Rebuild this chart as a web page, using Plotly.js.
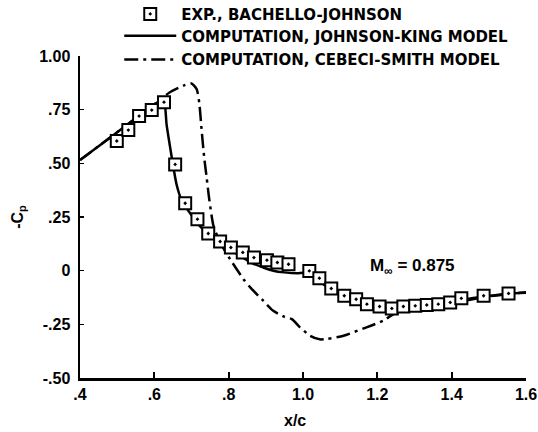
<!DOCTYPE html>
<html>
<head>
<meta charset="utf-8">
<script src="https://cdn.plot.ly/plotly-3.0.1.min.js"></script>
<style>html,body{margin:0;padding:0;background:#fff;}#chart{width:538px;height:432px;}</style>
</head>
<body>
<div id="chart"></div>
<script>
// Experimental data (Bachello-Johnson)
var expX = [0.499,0.530,0.559,0.593,0.626,0.656,0.683,0.716,0.745,0.777,0.806,0.838,0.868,0.903,0.931,0.961,1.017,1.044,1.076,1.111,1.143,1.172,1.206,1.239,1.270,1.302,1.333,1.364,1.396,1.426,1.486,1.553];
var expY = [0.604,0.655,0.720,0.748,0.785,0.495,0.314,0.240,0.173,0.136,0.108,0.085,0.061,0.049,0.038,0.030,-0.001,-0.035,-0.083,-0.117,-0.133,-0.156,-0.167,-0.176,-0.167,-0.164,-0.160,-0.156,-0.148,-0.129,-0.117,-0.106];

// Johnson-King model
var jkX = [0.40,0.45,0.50,0.55,0.60,0.620,0.627,0.633,0.642,0.650,0.660,0.674,0.692,0.714,0.741,0.777,0.813,0.867,0.893,0.920,0.950,0.985,1.005,1.037,1.073,1.109,1.140,1.170,1.210,1.240,1.270,1.330,1.400,1.450,1.500,1.550,1.600];
var jkY = [0.515,0.580,0.645,0.710,0.775,0.795,0.785,0.680,0.580,0.495,0.400,0.325,0.278,0.224,0.178,0.131,0.088,0.032,0.015,0.000,-0.008,-0.012,-0.010,-0.040,-0.086,-0.120,-0.140,-0.155,-0.168,-0.172,-0.168,-0.160,-0.148,-0.130,-0.118,-0.108,-0.103];

// Cebeci-Smith model
var csX = [0.40,0.45,0.50,0.55,0.60,0.640,0.680,0.700,0.714,0.721,0.727,0.734,0.741,0.748,0.759,0.777,0.804,0.840,0.858,0.893,0.920,0.950,0.970,0.992,1.019,1.045,1.064,1.109,1.163,1.216,1.250,1.300,1.400,1.500,1.600];
var csY = [0.515,0.580,0.645,0.710,0.775,0.829,0.863,0.872,0.845,0.780,0.660,0.530,0.430,0.330,0.210,0.131,0.053,-0.040,-0.078,-0.140,-0.187,-0.215,-0.226,-0.264,-0.303,-0.320,-0.318,-0.303,-0.269,-0.233,-0.195,-0.170,-0.150,-0.120,-0.100];

var xTickVals = [0.4,0.6,0.8,1.0,1.2,1.4,1.6];
var xTickText = ['.4','.6','.8','1.0','1.2','1.4','1.6'];
var yTickVals = [-0.5,-0.25,0,0.25,0.5,0.75,1.0];
var yTickText = ['-.50','-.25','0','.25','.50','.75','1.00'];

var names = ['EXP., BACHELLO-JOHNSON','COMPUTATION, JOHNSON-KING MODEL','COMPUTATION, CEBECI-SMITH MODEL'];

var FONT = 'Liberation Sans, Arial, sans-serif';
var LFONT = 'DejaVu Sans, sans-serif';

var traces = [
  {x: jkX, y: jkY, mode: 'lines', name: names[1], legend: 'legend2',
   line: {color: '#000', width: 2.5, shape: 'spline', smoothing: 0.6}},
  {x: csX, y: csY, mode: 'lines', name: names[2], legend: 'legend3',
   line: {color: '#000', width: 2.5, dash: '14px,5px,3px,5px', shape: 'spline', smoothing: 0.6}},
  {x: expX, y: expY, mode: 'markers', name: names[0], legend: 'legend',
   marker: {symbol: 'square-dot', size: 12, color: '#fff', line: {color: '#000', width: 2}}}
];

function leg(y) {
  return {x: 0.088, y: y, xanchor: 'left', yanchor: 'middle', bgcolor: 'rgba(0,0,0,0)',
          itemwidth: 52, font: {family: LFONT, size: 15, color: '#000', weight: 'bold'}};
}

var layout = {
  width: 538, height: 432,
  margin: {l: 80, r: 12, t: 56, b: 54, autoexpand: false},
  paper_bgcolor: '#fff', plot_bgcolor: '#fff',
  font: {family: FONT, color: '#000', weight: 'bold'},
  showlegend: true,
  legend: leg(1.130),
  legend2: leg(1.062),
  legend3: leg(0.988),
  xaxis: {
    range: [0.4, 1.6], tickvals: xTickVals, ticktext: xTickText,
    showgrid: false, zeroline: false, showline: true, linecolor: '#000', linewidth: 2.5,
    ticks: 'inside', ticklen: 6, tickwidth: 2, tickcolor: '#000',
    tickfont: {family: FONT, size: 16, color: '#000', weight: 'bold'}
  },
  yaxis: {
    range: [-0.5, 1.0], tickvals: yTickVals, ticktext: yTickText,
    showgrid: false, zeroline: false, showline: true, linecolor: '#000', linewidth: 2.5,
    ticks: 'inside', ticklen: 4, tickwidth: 1.5, tickcolor: '#000', ticklabelstandoff: 4,
    tickfont: {family: FONT, size: 16, color: '#000', weight: 'bold'},
    title: {text: '-C<sub>p</sub>', standoff: 12, font: {family: FONT, size: 16, color: '#000', weight: 'bold'}}
  },
  annotations: [
    {x: 0.979, y: -0.5, xref: 'x', yref: 'y', yshift: -32, text: 'x/c', showarrow: false,
     xanchor: 'center', yanchor: 'top', font: {family: FONT, size: 16, color: '#000', weight: 'bold'}},
    {x: 1.175, y: 0.016, xref: 'x', yref: 'y', text: 'M<sub>∞</sub> = 0.875', showarrow: false,
     xanchor: 'left', yanchor: 'middle', font: {family: FONT, size: 17, color: '#000', weight: 'bold'}}
  ]
};

Plotly.newPlot('chart', traces, layout, {displayModeBar: false, staticPlot: true});
</script>
</body>
</html>
